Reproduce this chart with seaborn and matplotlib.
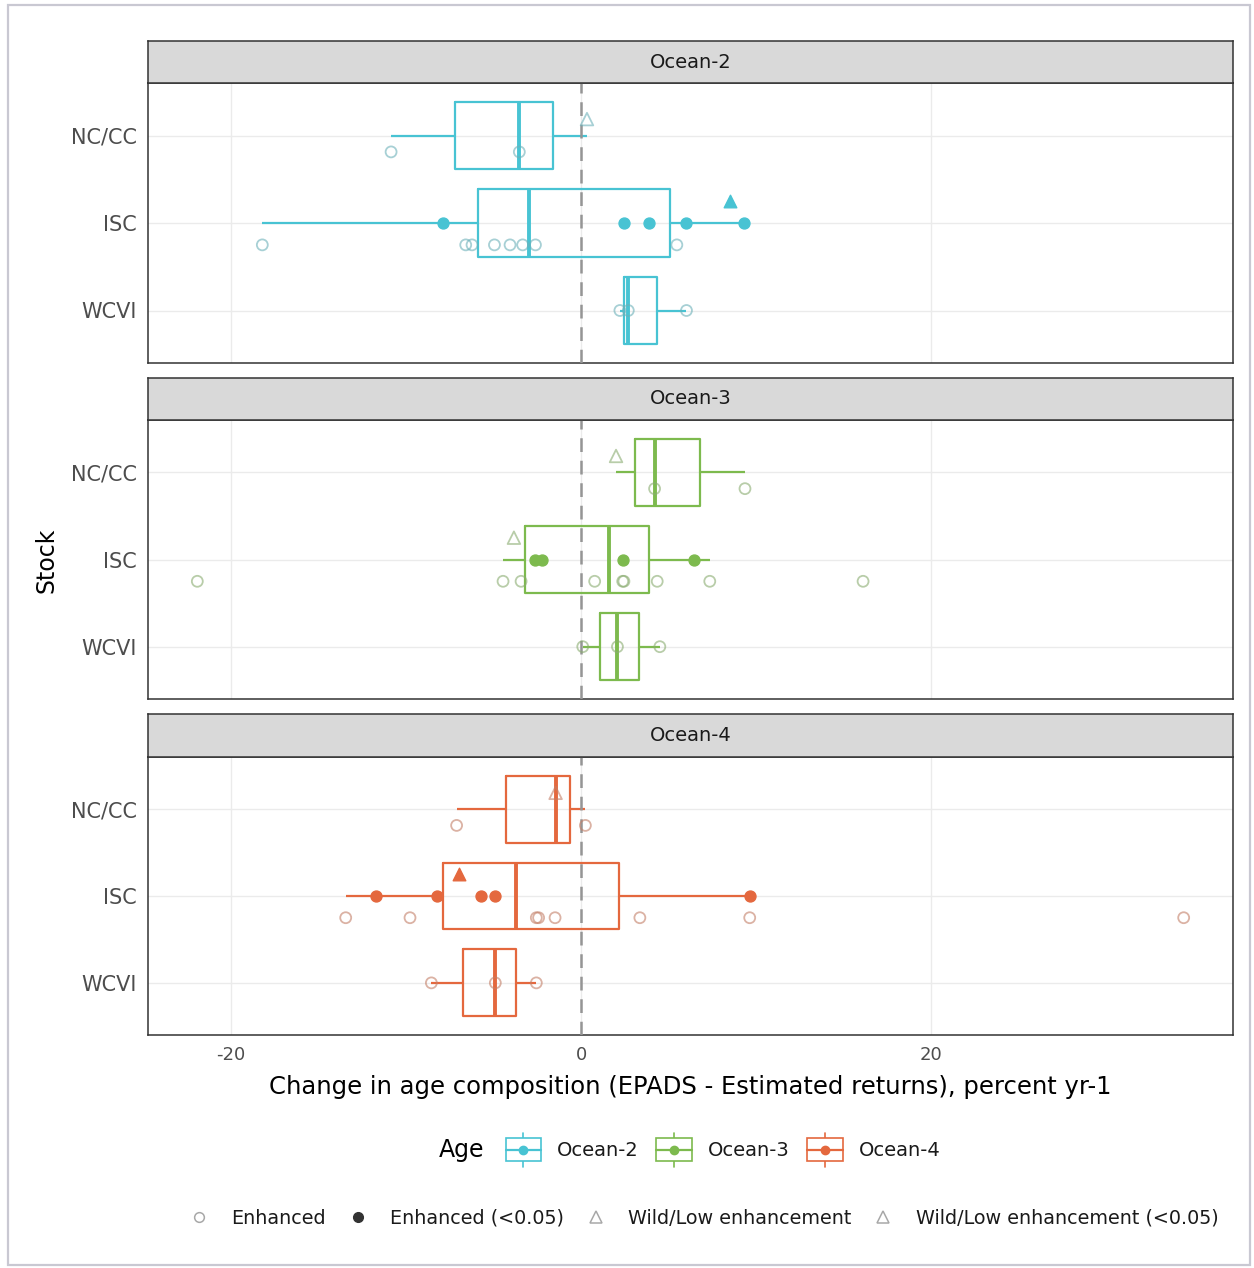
import numpy as np
import pandas as pd
import matplotlib
matplotlib.use("Agg")
import matplotlib.pyplot as plt
import matplotlib.colors as mcolors
from matplotlib.patches import Rectangle
from matplotlib.lines import Line2D
from matplotlib.legend_handler import HandlerBase
import seaborn as sns

# ---------------------------------------------------------------- data
ages = ["Ocean-2", "Ocean-3", "Ocean-4"]
stocks = ["NC/CC", "ISC", "WCVI"]
age_colors = {"Ocean-2": "#48C3D3", "Ocean-3": "#7DBA4E", "Ocean-4": "#E4683E"}

# point classes: E = Enhanced, Es = Enhanced (<0.05),
#                W = Wild/Low enhancement, Ws = Wild/Low enhancement (<0.05)
type_codes = ["E", "Es", "W", "Ws"]
type_labels = ["Enhanced", "Enhanced (<0.05)", "Wild/Low enhancement",
               "Wild/Low enhancement (<0.05)"]

o2_nccc = [-10.84, -3.52, 0.34]
o2_nccc_type = ["E", "E", "W"]
o2_isc = [-18.19, -7.90, -6.58, -6.22, -4.94, -4.05, -3.33, -2.60,
          2.46, 3.90, 5.47, 6.02, 8.48, 9.33]
o2_isc_type = ["E", "Es", "E", "E", "E", "E", "E", "E",
               "Es", "Es", "E", "Es", "Ws", "Es"]
o2_wcvi = [2.22, 2.70, 6.02]
o2_wcvi_type = ["E", "E", "E"]

o3_nccc = [2.00, 4.20, 9.36]
o3_nccc_type = ["W", "E", "E"]
o3_isc = [-21.90, -4.45, -3.83, -3.42, -2.60, -2.20, 0.78, 2.38,
          2.42, 2.45, 4.35, 6.45, 7.35, 16.10]
o3_isc_type = ["E", "E", "W", "E", "Es", "Es", "E", "E",
               "Es", "E", "E", "Es", "E", "E"]
o3_wcvi = [0.10, 2.08, 4.50]
o3_wcvi_type = ["E", "E", "E"]

o4_nccc = [-7.10, -1.45, 0.25]
o4_nccc_type = ["E", "W", "E"]
o4_isc = [-13.43, -11.72, -9.76, -8.20, -6.96, -5.73, -4.89, -2.55,
          -2.42, -1.48, 3.36, 9.63, 9.63, 34.40]
o4_isc_type = ["E", "Es", "E", "Es", "Ws", "Es", "Es", "E",
               "E", "E", "E", "Es", "E", "E"]
o4_wcvi = [-8.54, -4.89, -2.55]
o4_wcvi_type = ["E", "E", "E"]

series = {
    ("Ocean-2", "NC/CC"): (o2_nccc, o2_nccc_type),
    ("Ocean-2", "ISC"): (o2_isc, o2_isc_type),
    ("Ocean-2", "WCVI"): (o2_wcvi, o2_wcvi_type),
    ("Ocean-3", "NC/CC"): (o3_nccc, o3_nccc_type),
    ("Ocean-3", "ISC"): (o3_isc, o3_isc_type),
    ("Ocean-3", "WCVI"): (o3_wcvi, o3_wcvi_type),
    ("Ocean-4", "NC/CC"): (o4_nccc, o4_nccc_type),
    ("Ocean-4", "ISC"): (o4_isc, o4_isc_type),
    ("Ocean-4", "WCVI"): (o4_wcvi, o4_wcvi_type),
}

rows = []
for (age, stock), (vals, types) in series.items():
    for v, t in zip(vals, types):
        rows.append({"age": age, "stock": stock, "value": v, "type": t})
df = pd.DataFrame(rows)

# dodge points by class inside each stock row (first class at the bottom)
dodge_width = 0.75
df["ypos"] = 0.0
for (age, stock), grp in df.groupby(["age", "stock"]):
    present = [t for t in type_codes if t in set(grp["type"])]
    n = len(present)
    for k, t in enumerate(present):
        off = (k - (n - 1) / 2) * dodge_width / n
        sel = grp.index[grp["type"] == t]
        df.loc[sel, "ypos"] = stocks.index(stock) - off

# ---------------------------------------------------------------- style
sns.set_style("white")
plt.rcParams["font.family"] = ["DejaVu Sans"]
plt.rcParams["axes.unicode_minus"] = False

W, H = 1254, 1268
fig = plt.figure(figsize=(W / 100, H / 100), dpi=100)


def fbox(left, top, right, bottom):
    return [left / W, 1 - bottom / H, (right - left) / W, (bottom - top) / H]


def soft(color, grey="#9A9A9A", mix=0.45):
    c = np.array(mcolors.to_rgb(color))
    g = np.array(mcolors.to_rgb(grey))
    return tuple(c * (1 - mix) + g * mix) + (0.6,)


panel_l, panel_r = 148, 1233
panels = [(41, 83, 363), (378, 420, 699), (714, 757, 1035)]

lo, hi = df["value"].min(), df["value"].max()
pad = 0.05 * (hi - lo)
xlim = (lo - pad, hi + pad)

text_grey = "#4D4D4D"
border = "#333333"

for i, age in enumerate(ages):
    s_top, p_top, p_bot = panels[i]
    col = age_colors[age]
    ax = fig.add_axes(fbox(panel_l, p_top, panel_r, p_bot))
    sub = df[df["age"] == age]

    # grid
    for gx in (-20, 0, 20):
        ax.axvline(gx, color="#EBEBEB", lw=1.0, zorder=0)
    for gy in range(len(stocks)):
        ax.axhline(gy, color="#EBEBEB", lw=1.0, zorder=0)

    sns.boxplot(data=sub, x="value", y="stock", order=stocks, orient="h",
                width=0.77, fill=False, color=col, linewidth=1.6,
                showfliers=False, showcaps=False, whis=1.5,
                medianprops=dict(linewidth=2.8, color=col),
                ax=ax, zorder=2)

    ax.axvline(0, color="#959595", lw=1.8, ls=(0, (5.5, 3.5)), zorder=3)

    for t in type_codes:
        pts = sub[sub["type"] == t]
        if pts.empty:
            continue
        marker = "o" if t in ("E", "Es") else "^"
        size = 62 if marker == "o" else 82
        if t in ("Es", "Ws"):
            ax.scatter(pts["value"], pts["ypos"], marker=marker, s=size,
                       facecolor=col, edgecolor=col, linewidths=1.0, zorder=4)
        else:
            ax.scatter(pts["value"], pts["ypos"], marker=marker, s=size,
                       facecolor="none", edgecolor=soft(col),
                       linewidths=1.3, zorder=4)

    ax.set_xlim(xlim)
    ax.set_ylim(len(stocks) - 0.4, -0.6)
    ax.set_xlabel("")
    ax.set_ylabel("")
    ax.set_xticks([-20, 0, 20])
    ax.set_yticks(range(len(stocks)))
    ax.set_yticklabels(stocks)
    ax.tick_params(axis="y", length=5, width=1.0, color=border,
                   labelsize=15, labelcolor=text_grey, pad=3)
    if i < 2:
        ax.tick_params(axis="x", length=0, labelbottom=False)
    else:
        ax.tick_params(axis="x", length=5, width=1.0, color=border,
                       labelsize=13, labelcolor=text_grey, pad=3)
    for sp in ax.spines.values():
        sp.set_color(border)
        sp.set_linewidth(1.1)
        sp.set_visible(True)
    ax.set_facecolor("white")

    # facet strip
    sax = fig.add_axes(fbox(panel_l, s_top, panel_r, p_top))
    sax.set_facecolor("#D9D9D9")
    sax.set_xticks([])
    sax.set_yticks([])
    for sp in sax.spines.values():
        sp.set_color(border)
        sp.set_linewidth(1.1)
    sax.text(0.5, 0.5, age, ha="center", va="center", fontsize=14,
             color="#1A1A1A", transform=sax.transAxes)

# axis titles
fig.text(690 / W, 1 - 1087 / H,
         "Change in age composition (EPADS - Estimated returns), percent yr-1",
         ha="center", va="center", fontsize=17.5, color="black")
fig.text(47 / W, 1 - 560 / H, "Stock", rotation=90, ha="center",
         va="center", fontsize=17, color="black")


# ---------------------------------------------------------------- legends
class BoxKeyHandler(HandlerBase):
    def create_artists(self, legend, orig_handle, xdescent, ydescent,
                       width, height, fontsize, trans):
        c = orig_handle.get_color()
        x0, y0 = -xdescent, -ydescent
        cx, cy = x0 + width / 2, y0 + height / 2
        full = fontsize * 1.75
        bh = fontsize * 1.2
        box = Rectangle((x0, cy - bh / 2), width, bh, facecolor="white",
                        edgecolor=c, lw=1.2, transform=trans)
        wl = Line2D([cx, cx], [cy - full / 2, cy - bh / 2], color=c, lw=1.2,
                    transform=trans)
        wh = Line2D([cx, cx], [cy + bh / 2, cy + full / 2], color=c, lw=1.2,
                    transform=trans)
        med = Line2D([x0, x0 + width], [cy, cy], color=c, lw=1.6,
                     transform=trans)
        dot = Line2D([cx], [cy], marker="o", ms=6, color=c, lw=0,
                     transform=trans)
        return [wl, wh, box, med, dot]


age_handles = [Line2D([], [], color=age_colors[a]) for a in ages]
fig.text(462 / W, 1 - 1150 / H, "Age", ha="center", va="center",
         fontsize=17, color="black")
leg1 = fig.legend(age_handles, ages, loc="center left",
                  bbox_to_anchor=(488 / W, 1 - 1150 / H), ncol=3,
                  frameon=False, fontsize=14, handlelength=1.85,
                  handleheight=1.2, handletextpad=0.8, columnspacing=0.9,
                  handler_map={Line2D: BoxKeyHandler()})
for t in leg1.get_texts():
    t.set_color("#1A1A1A")

shape_handles = [
    Line2D([], [], marker="o", ls="", ms=7, markerfacecolor="none",
           markeredgecolor="#A8A8A8", markeredgewidth=1.1),
    Line2D([], [], marker="o", ls="", ms=7, markerfacecolor="#333333",
           markeredgecolor="#333333"),
    Line2D([], [], marker="^", ls="", ms=8, markerfacecolor="none",
           markeredgecolor="#A8A8A8", markeredgewidth=1.1),
    Line2D([], [], marker="^", ls="", ms=8, markerfacecolor="none",
           markeredgecolor="#A8A8A8", markeredgewidth=1.1),
]
leg2 = fig.legend(shape_handles, type_labels, loc="center",
                  bbox_to_anchor=(704 / W, 1 - 1218 / H), ncol=4,
                  frameon=False, fontsize=13.8, handlelength=1.0,
                  handletextpad=1.2, columnspacing=1.15)
for t in leg2.get_texts():
    t.set_color("#1A1A1A")

# outer frame
fig.add_artist(Rectangle((8 / W, 1 - 1265 / H), 1242 / W, 1260 / H,
                         transform=fig.transFigure, fill=False,
                         edgecolor="#C9C8D2", lw=1.6))

fig.savefig("out.png", dpi=100, facecolor="white")
